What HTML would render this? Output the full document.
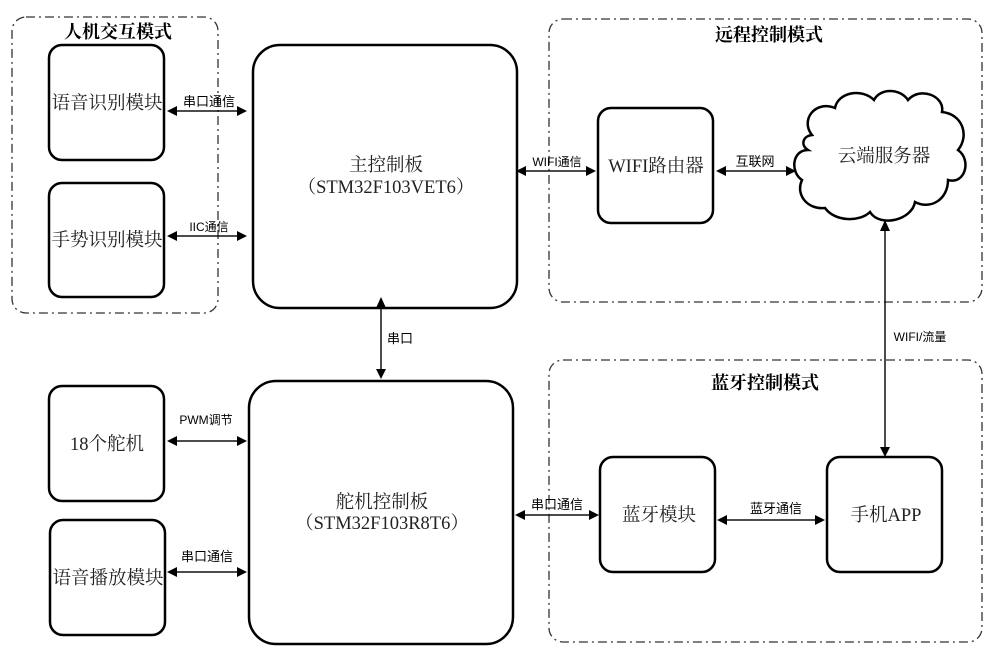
<!DOCTYPE html>
<html><head><meta charset="utf-8"><style>
html,body{margin:0;padding:0;background:#fff;}
svg{display:block;}
.t{font-family:"Liberation Serif","Noto Serif CJK SC",serif;font-size:18.5px;fill:#222;text-anchor:middle;}
.h{font-family:"Liberation Serif","Noto Serif CJK SC",serif;font-size:18px;font-weight:bold;fill:#000;text-anchor:middle;}
.l{font-family:"Liberation Sans","Noto Sans CJK SC",sans-serif;font-size:13px;fill:#000;text-anchor:middle;}
.box{fill:#fff;stroke:#000;stroke-width:2.5;}
.grp{fill:none;stroke:#333;stroke-width:1.3;stroke-dasharray:9 4 2 4;}
.ln{stroke:#111;stroke-width:1.5;fill:none;}
</style></head><body>
<svg width="1002" height="661" viewBox="0 0 1002 661" xmlns="http://www.w3.org/2000/svg">
<rect class="grp" x="12" y="17" width="206" height="296" rx="14"/>
<rect class="grp" x="549" y="19" width="433" height="283" rx="14"/>
<rect class="grp" x="549" y="360" width="433" height="282" rx="14"/>
<text class="h" x="118" y="38">人机交互模式</text>
<text class="h" x="769" y="41">远程控制模式</text>
<text class="h" x="765" y="389">蓝牙控制模式</text>

<rect class="box" x="49" y="45" width="115" height="115" rx="13"/>
<text class="t" x="107" y="109">语音识别模块</text>
<rect class="box" x="49" y="183" width="115" height="114" rx="13"/>
<text class="t" x="107" y="246">手势识别模块</text>
<rect class="box" x="253" y="45" width="264" height="263" rx="27"/>
<text class="t" x="386" y="171">主控制板</text>
<text class="t" x="386" y="193">（STM32F103VET6）</text>
<rect class="box" x="598" y="108" width="115" height="115" rx="13"/>
<text class="t" x="656" y="172">WIFI路由器</text>

<path class="box" d="M812,135 C800,120 815,100 835,108 C838,92 862,88 874,100 C880,88 900,88 908,100 C920,86 945,96 942,112 C962,114 970,135 958,150 C972,160 965,185 948,180 C948,200 930,210 915,202 C912,220 880,228 870,212 C860,222 835,222 825,208 C808,210 795,195 802,180 C790,172 792,150 808,150 C800,145 803,136 812,135 Z"/>
<text class="t" x="884" y="162">云端服务器</text>

<rect class="box" x="49" y="386" width="115" height="115" rx="13"/>
<text class="t" x="107" y="450">18个舵机</text>
<rect class="box" x="50" y="520" width="115" height="115" rx="13"/>
<text class="t" x="108" y="584">语音播放模块</text>
<rect class="box" x="249" y="381" width="264" height="263" rx="27"/>
<text class="t" x="382" y="508">舵机控制板</text>
<text class="t" x="382" y="529">（STM32F103R8T6）</text>
<rect class="box" x="600" y="457" width="115" height="115" rx="13"/>
<text class="t" x="659" y="521">蓝牙模块</text>
<rect class="box" x="827" y="457" width="115" height="115" rx="13"/>
<text class="t" x="886" y="521">手机APP</text>

<g>
<line class="ln" x1="172" y1="111" x2="240" y2="111"/>
<path d="M167,111 L177,106 L177,116Z M247,111 L237,106 L237,116Z"/>
<text class="l" x="209" y="106">串口通信</text>

<line class="ln" x1="172" y1="236" x2="240" y2="236"/>
<path d="M167,236 L177,231 L177,241Z M247,236 L237,231 L237,241Z"/>
<text class="l" x="209" y="231" style="font-size:12px">IIC通信</text>

<line class="ln" x1="520" y1="171" x2="592" y2="171"/>
<path d="M516,171 L526,166 L526,176Z M596,171 L586,166 L586,176Z"/>
<text class="l" x="557" y="166" style="font-size:12px">WIFI通信</text>

<line class="ln" x1="720" y1="171" x2="790" y2="171"/>
<path d="M716,171 L726,166 L726,176Z M796,171 L786,166 L786,176Z"/>
<text class="l" x="755" y="166">互联网</text>

<line class="ln" x1="381" y1="302" x2="381" y2="374"/>
<path d="M381,297 L376,308 L386,308Z M381,379 L376,369 L386,369Z"/>
<text class="l" x="400" y="343">串口</text>

<line class="ln" x1="885" y1="225" x2="885" y2="452"/>
<path d="M885,220 L880,231 L890,231Z M885,457 L880,447 L890,447Z"/>
<text class="l" x="920" y="341" style="font-size:12px">WIFI/流量</text>

<line class="ln" x1="172" y1="441" x2="240" y2="441"/>
<path d="M167,441 L177,436 L177,446Z M247,441 L237,436 L237,446Z"/>
<text class="l" x="206" y="424" style="font-size:12px">PWM调节</text>

<line class="ln" x1="172" y1="572" x2="240" y2="572"/>
<path d="M167,572 L177,567 L177,577Z M247,572 L237,567 L237,577Z"/>
<text class="l" x="207" y="561">串口通信</text>

<line class="ln" x1="520" y1="515" x2="594" y2="515"/>
<path d="M515,515 L525,510 L525,520Z M599,515 L589,510 L589,520Z"/>
<text class="l" x="557" y="509">串口通信</text>

<line class="ln" x1="722" y1="520" x2="820" y2="520"/>
<path d="M717,520 L727,515 L727,525Z M825,520 L815,515 L815,525Z"/>
<text class="l" x="776" y="513">蓝牙通信</text>
</g>
</svg>
</body></html>
